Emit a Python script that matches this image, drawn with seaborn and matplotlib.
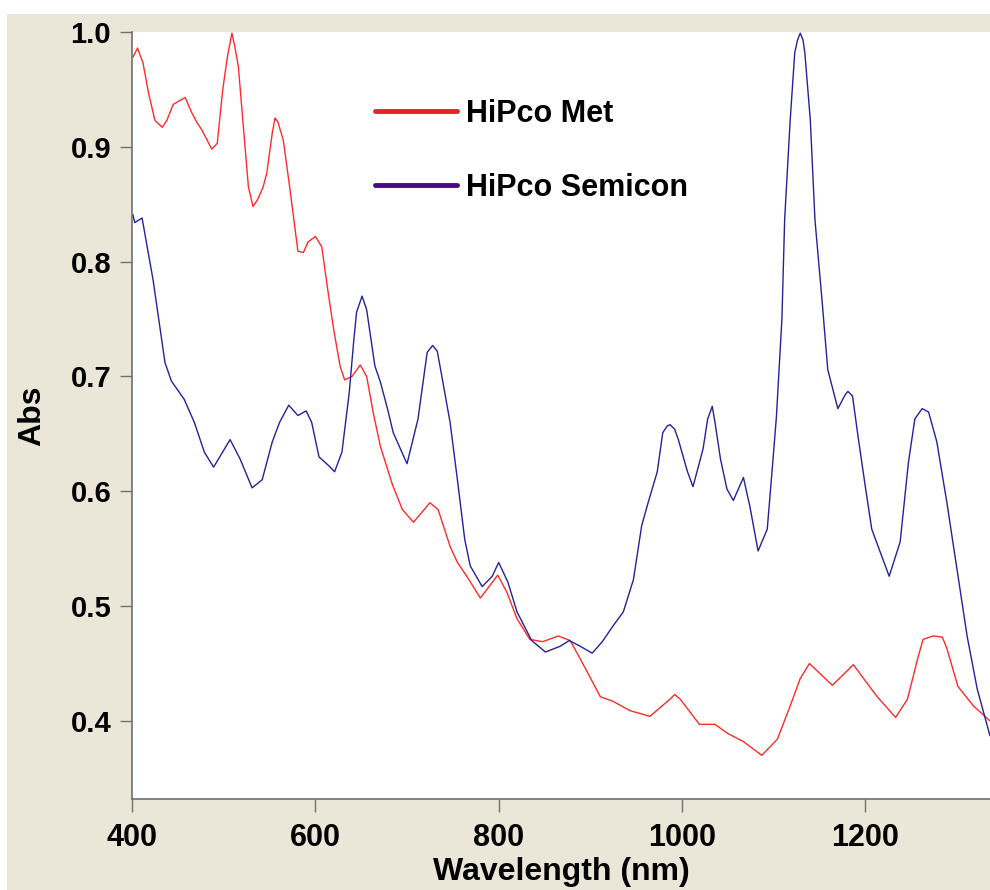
import pandas as pd
import matplotlib.pyplot as plt
from matplotlib.lines import Line2D
from matplotlib.patches import Rectangle
import seaborn as sns

# HiPco metallic fraction
met_wl = [401, 406, 412, 418, 425, 433, 438, 445, 458, 465, 471, 476, 487, 493, 499,
          504, 509, 512, 516, 527, 532, 537, 543, 547, 553, 556, 559, 565, 572, 581,
          587, 592, 600, 607, 614, 620, 627, 632, 640, 649, 656, 663, 671, 684, 695,
          707, 725, 734, 747, 755, 766, 780, 799, 809, 820, 834, 848, 865, 878, 889,
          911, 925, 943, 965, 987, 992, 998, 1019, 1036, 1050, 1067, 1087, 1104, 1118,
          1129, 1139, 1164, 1187, 1198, 1213, 1233, 1246, 1257, 1263, 1274, 1284, 1289,
          1301, 1318, 1336]
met_abs = [0.978, 0.986, 0.973, 0.947, 0.923, 0.917, 0.923, 0.937, 0.943, 0.930, 0.921,
           0.915, 0.898, 0.903, 0.950, 0.978, 0.999, 0.988, 0.970, 0.865, 0.848, 0.854,
           0.865, 0.877, 0.912, 0.925, 0.922, 0.906, 0.865, 0.809, 0.808, 0.817, 0.822,
           0.813, 0.773, 0.741, 0.709, 0.697, 0.700, 0.710, 0.700, 0.669, 0.639, 0.606,
           0.584, 0.573, 0.590, 0.584, 0.552, 0.538, 0.525, 0.507, 0.527, 0.512, 0.489,
           0.471, 0.469, 0.474, 0.470, 0.454, 0.421, 0.417, 0.409, 0.404, 0.419, 0.423,
           0.419, 0.397, 0.397, 0.389, 0.382, 0.370, 0.384, 0.413, 0.437, 0.450, 0.431,
           0.449, 0.437, 0.421, 0.403, 0.419, 0.454, 0.471, 0.474, 0.473, 0.463, 0.430,
           0.413, 0.400]

# HiPco semiconducting fraction
semi_wl = [401, 403, 411, 423, 436, 443, 457, 468, 479, 489, 507, 518, 531, 542, 553,
           561, 571, 581, 590, 596, 604, 615, 621, 629, 637, 642, 645, 651, 656, 665,
           671, 679, 685, 700, 712, 722, 728, 733, 736, 747, 755, 763, 769, 782, 793,
           800, 810, 820, 836, 851, 867, 877, 889, 902, 913, 925, 936, 947, 956, 963,
           973, 979, 984, 987, 992, 996, 1006, 1012, 1023, 1028, 1033, 1036, 1042, 1049,
           1056, 1067, 1074, 1083, 1093, 1099, 1103, 1109, 1112, 1118, 1123, 1126, 1129,
           1132, 1134, 1140, 1145, 1153, 1159, 1170, 1178, 1181, 1186, 1192, 1200, 1207,
           1226, 1238, 1247, 1254, 1262, 1269, 1278, 1289, 1300, 1311, 1322, 1336]
semi_abs = [0.841, 0.834, 0.838, 0.784, 0.712, 0.696, 0.680, 0.660, 0.634, 0.621, 0.645,
            0.628, 0.603, 0.610, 0.643, 0.660, 0.675, 0.666, 0.670, 0.660, 0.630, 0.622,
            0.617, 0.634, 0.686, 0.732, 0.756, 0.770, 0.758, 0.709, 0.695, 0.671, 0.651,
            0.624, 0.663, 0.721, 0.727, 0.722, 0.709, 0.660, 0.610, 0.558, 0.535, 0.517,
            0.526, 0.538, 0.521, 0.495, 0.470, 0.460, 0.465, 0.470, 0.465, 0.459, 0.469,
            0.483, 0.495, 0.523, 0.570, 0.590, 0.617, 0.651, 0.657, 0.658, 0.654, 0.645,
            0.617, 0.604, 0.637, 0.663, 0.674, 0.660, 0.628, 0.602, 0.592, 0.612, 0.587,
            0.548, 0.567, 0.625, 0.665, 0.750, 0.837, 0.923, 0.982, 0.993, 0.999, 0.993,
            0.982, 0.923, 0.837, 0.764, 0.706, 0.672, 0.684, 0.687, 0.683, 0.648, 0.604,
            0.567, 0.526, 0.556, 0.625, 0.663, 0.672, 0.669, 0.643, 0.590, 0.532, 0.474,
            0.428, 0.387]

labels = ["HiPco Met", "HiPco Semicon"]
line_colors = {"HiPco Met": "#ff2a2a", "HiPco Semicon": "#22229a"}
legend_colors = ["#e8202a", "#4a0a84"]
x_ticks = [400, 600, 800, 1000, 1200]
y_ticks = [0.4, 0.5, 0.6, 0.7, 0.8, 0.9, 1.0]


def main():
    sns.set_style("white")
    plt.rcParams["font.family"] = ["Liberation Sans", "DejaVu Sans"]
    plt.rcParams["font.weight"] = "bold"
    plt.rcParams["text.color"] = "black"
    plt.rcParams["axes.labelcolor"] = "black"

    df = pd.concat([
        pd.DataFrame({"Wavelength": met_wl, "Abs": met_abs, "Sample": labels[0]}),
        pd.DataFrame({"Wavelength": semi_wl, "Abs": semi_abs, "Sample": labels[1]}),
    ])

    fig = plt.figure(figsize=(9.9, 8.9), dpi=100, facecolor="#ebe7d8")
    # thin white margins at the top and left of the original screenshot
    fig.patches.append(Rectangle((0, 1 - 14 / 890), 1, 14 / 890, transform=fig.transFigure,
                                 facecolor="white", edgecolor="none"))
    fig.patches.append(Rectangle((0, 0), 7 / 990, 1, transform=fig.transFigure,
                                 facecolor="white", edgecolor="none"))
    ax = fig.add_axes([132 / 990, 91 / 890, 858 / 990, 767 / 890])
    ax.set_facecolor("white")

    sns.lineplot(data=df, x="Wavelength", y="Abs", hue="Sample", palette=line_colors,
                 linewidth=1.0, legend=False, ax=ax)

    ax.set_xlim(400, 1336)
    ax.set_ylim(0.332, 1.0)
    ax.set_xticks(x_ticks)
    ax.set_yticks(y_ticks)
    ax.set_yticklabels([f"{v:.1f}" for v in y_ticks])
    ax.tick_params(axis="x", bottom=True, direction="out", length=9, width=1,
                   color="#707070", labelsize=22, labelcolor="black", pad=8)
    ax.tick_params(axis="y", left=True, direction="out", length=9, width=1,
                   color="#707070", labelsize=21, labelcolor="black", pad=6)
    for lbl in ax.get_xticklabels() + ax.get_yticklabels():
        lbl.set_fontweight("bold")

    for side in ["top", "right"]:
        ax.spines[side].set_visible(False)
    for side in ["left", "bottom"]:
        ax.spines[side].set_color("#707070")
        ax.spines[side].set_linewidth(1.2)

    ax.set_xlabel("Wavelength (nm)", fontsize=23, fontweight="bold", labelpad=3)
    ax.set_ylabel("Abs", fontsize=23, fontweight="bold", labelpad=17)

    handles = [Line2D([], [], color=c, linewidth=3.5, solid_capstyle="round")
               for c in legend_colors]
    ax.legend(handles, labels, loc="upper left", bbox_to_anchor=(0.283, 0.913),
              frameon=False, prop={"weight": "bold", "size": 22},
              handlelength=2.7, handletextpad=0.3, labelspacing=1.45,
              borderpad=0, borderaxespad=0)

    fig.savefig("out.png", dpi=100, facecolor=fig.get_facecolor())
    plt.close(fig)


if __name__ == "__main__":
    main()
